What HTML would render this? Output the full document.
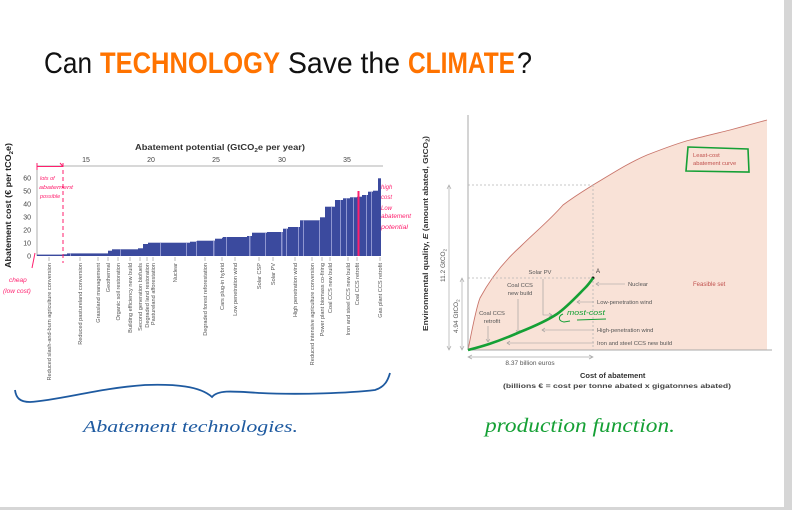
<!DOCTYPE html>
<html><head><meta charset="utf-8"><style>
html,body{margin:0;padding:0;background:#fff;}
svg{display:block;}
</style></head><body>
<svg width="792" height="510" viewBox="0 0 792 510" xmlns="http://www.w3.org/2000/svg" font-family="'Liberation Sans', sans-serif">
<rect x="0" y="0" width="792" height="510" fill="#fff"/>
<rect x="784" y="0" width="8" height="510" fill="#d6d6d6"/>
<rect x="0" y="507" width="792" height="3" fill="#d6d6d6"/>

<!-- Title -->
<g font-size="30">
<text x="44" y="73" textLength="48" lengthAdjust="spacingAndGlyphs" fill="#111">Can</text>
<text x="100" y="73" textLength="180" lengthAdjust="spacingAndGlyphs" fill="#ff7300" font-weight="bold">TECHNOLOGY</text>
<text x="288" y="73" textLength="112" lengthAdjust="spacingAndGlyphs" fill="#111">Save the</text>
<text x="408" y="73" textLength="107" lengthAdjust="spacingAndGlyphs" fill="#ff7300" font-weight="bold">CLIMATE</text>
<text x="517" y="73" textLength="15" lengthAdjust="spacingAndGlyphs" fill="#111">?</text>
</g>

<!-- LEFT CHART -->
<text x="135" y="150" font-size="8" font-weight="bold" fill="#333" textLength="170" lengthAdjust="spacingAndGlyphs">Abatement potential (GtCO<tspan font-size="5.5" dy="2">2</tspan><tspan dy="-2">e per year)</tspan></text>
<line x1="37" y1="166" x2="383" y2="166" stroke="#999" stroke-width="0.8"/>
<g font-size="7" fill="#444" text-anchor="middle">
<text x="86" y="162">15</text><text x="151" y="162">20</text><text x="216" y="162">25</text><text x="282" y="162">30</text><text x="347" y="162">35</text>
</g>
<line x1="37" y1="166" x2="37" y2="256" stroke="#999" stroke-width="0.8"/>
<g font-size="7" fill="#444" text-anchor="end">
<text x="31" y="180.5">60</text><text x="31" y="193.5">50</text><text x="31" y="206.5">40</text><text x="31" y="219.5">30</text><text x="31" y="232.5">20</text><text x="31" y="245.5">10</text><text x="31" y="258.5">0</text>
</g>
<text transform="translate(11,268) rotate(-90)" font-size="8.2" fill="#222" font-weight="bold" textLength="125" lengthAdjust="spacingAndGlyphs">Abatement cost (€ per tCO<tspan font-size="5.5" dy="2">2</tspan><tspan dy="-2">e)</tspan></text>

<!-- bars -->
<g fill="#3b4a9e">
<rect x="37" y="254.6" width="26" height="1.4"/>
<rect x="63" y="254.3" width="4" height="1.7"/>
<rect x="67" y="253.4" width="41" height="2.6"/>
<rect x="108" y="250.7" width="4" height="5.3"/>
<rect x="112" y="249.3" width="26" height="6.7"/>
<rect x="138" y="248.3" width="5" height="7.7"/>
<rect x="143" y="244" width="5" height="12"/>
<rect x="148" y="242.7" width="42" height="13.3"/>
<rect x="190" y="241.7" width="7" height="14.3"/>
<rect x="197" y="240.7" width="18" height="15.3"/>
<rect x="215" y="238.7" width="7" height="17.3"/>
<rect x="222" y="237.7" width="1" height="18.3"/>
<rect x="223" y="237" width="24" height="19"/>
<rect x="247" y="236" width="5" height="20"/>
<rect x="252" y="232.7" width="15" height="23.3"/>
<rect x="267" y="232" width="16" height="24"/>
<rect x="283" y="228.7" width="5" height="27.3"/>
<rect x="288" y="227" width="12" height="29"/>
<rect x="300" y="220.3" width="20" height="35.7"/>
<rect x="320" y="217.3" width="5" height="38.7"/>
<rect x="325" y="206.7" width="10" height="49.3"/>
<rect x="335" y="200" width="8" height="56"/>
<rect x="343" y="198.3" width="7" height="57.7"/>
<rect x="350" y="197.3" width="7" height="58.7"/>
<rect x="357" y="196.7" width="5" height="59.3"/>
<rect x="362" y="195" width="6" height="61"/>
<rect x="368" y="191.7" width="5" height="64.3"/>
<rect x="373" y="190.7" width="5" height="65.3"/>
<rect x="378" y="178.3" width="3" height="77.7"/>
</g>
<g fill="#8f96d0">
<rect x="70" y="253.4" width="1" height="2.6"/>
<rect x="120" y="249.3" width="1" height="6.7"/>
<rect x="160" y="242.7" width="1" height="13.3"/>
<rect x="186" y="242.7" width="1" height="13.3"/>
<rect x="196" y="241" width="1" height="15"/>
<rect x="213" y="240.7" width="1.5" height="15.3"/>
<rect x="226" y="237" width="1" height="19"/>
<rect x="249" y="236" width="1.5" height="20"/>
<rect x="265" y="232.7" width="1" height="23.3"/>
<rect x="281" y="232" width="1.5" height="24"/>
<rect x="286" y="228.7" width="1" height="27.3"/>
<rect x="298" y="227" width="1" height="29"/>
<rect x="303" y="220.3" width="1" height="35.7"/>
<rect x="319" y="220.3" width="1" height="35.7"/>
<rect x="331" y="206.7" width="1" height="49.3"/>
<rect x="340" y="200" width="1" height="56"/>
<rect x="346" y="198.3" width="1" height="57.7"/>
<rect x="353" y="197.3" width="1" height="58.7"/>
<rect x="366" y="195" width="1" height="61"/>
<rect x="371" y="191.7" width="1" height="64.3"/>
</g>

<!-- category ticks & labels -->
<g stroke="#777" stroke-width="0.5">
<line x1="49" y1="257" x2="49" y2="261"/><line x1="80" y1="257" x2="80" y2="261"/><line x1="98" y1="257" x2="98" y2="261"/><line x1="108" y1="257" x2="108" y2="261"/><line x1="118" y1="257" x2="118" y2="261"/><line x1="130" y1="257" x2="130" y2="261"/><line x1="140" y1="257" x2="140" y2="261"/><line x1="147" y1="257" x2="147" y2="261"/><line x1="153" y1="257" x2="153" y2="261"/><line x1="175" y1="257" x2="175" y2="261"/><line x1="205" y1="257" x2="205" y2="261"/><line x1="222" y1="257" x2="222" y2="261"/><line x1="235" y1="257" x2="235" y2="261"/><line x1="259" y1="257" x2="259" y2="261"/><line x1="273" y1="257" x2="273" y2="261"/><line x1="295" y1="257" x2="295" y2="261"/><line x1="312" y1="257" x2="312" y2="261"/><line x1="322" y1="257" x2="322" y2="261"/><line x1="330" y1="257" x2="330" y2="261"/><line x1="348" y1="257" x2="348" y2="261"/><line x1="357" y1="257" x2="357" y2="261"/><line x1="380" y1="257" x2="380" y2="261"/>
</g>
<g font-size="5.6" fill="#555" text-anchor="end">
<text transform="translate(51,263) rotate(-90)">Reduced slash-and-burn agriculture conversion</text>
<text transform="translate(82,263) rotate(-90)">Reduced pastureland conversion</text>
<text transform="translate(100,263) rotate(-90)">Grassland management</text>
<text transform="translate(110,263) rotate(-90)">Geothermal</text>
<text transform="translate(120,263) rotate(-90)">Organic soil restoration</text>
<text transform="translate(132,263) rotate(-90)">Building efficiency new build</text>
<text transform="translate(142,263) rotate(-90)">Second generation biofuels</text>
<text transform="translate(149,263) rotate(-90)">Degraded land restoration</text>
<text transform="translate(155,263) rotate(-90)">Pastureland afforestation</text>
<text transform="translate(177,263) rotate(-90)">Nuclear</text>
<text transform="translate(207,263) rotate(-90)">Degraded forest reforestation</text>
<text transform="translate(224,263) rotate(-90)">Cars plug-in hybrid</text>
<text transform="translate(237,263) rotate(-90)">Low penetration wind</text>
<text transform="translate(261,263) rotate(-90)">Solar CSP</text>
<text transform="translate(275,263) rotate(-90)">Solar PV</text>
<text transform="translate(297,263) rotate(-90)">High penetration wind</text>
<text transform="translate(314,263) rotate(-90)">Reduced intensive agriculture conversion</text>
<text transform="translate(324,263) rotate(-90)">Power plant biomass co-firing</text>
<text transform="translate(332,263) rotate(-90)">Coal CCS new build</text>
<text transform="translate(350,263) rotate(-90)">Iron and steel CCS new build</text>
<text transform="translate(359,263) rotate(-90)">Coal CCS retrofit</text>
<text transform="translate(382,263) rotate(-90)">Gas plant CCS retrofit</text>
</g>

<!-- pink annotations -->
<g stroke="#ff1f6e" fill="none" stroke-width="1">
<line x1="63" y1="163" x2="63" y2="263" stroke-dasharray="4,3"/>
<line x1="37" y1="163" x2="37" y2="170"/>
<line x1="37" y1="166.5" x2="63" y2="166.5"/>
<line x1="60" y1="163" x2="63" y2="166.5"/>
<line x1="35" y1="253" x2="32" y2="268"/>
<line x1="358.5" y1="191" x2="358.5" y2="256" stroke-width="2"/>
</g>
<g fill="#ff1f6e" font-size="5.5" font-style="italic">
<text x="40" y="180">lots of</text>
<text x="39" y="189" textLength="34" lengthAdjust="spacingAndGlyphs">abatement</text>
<text x="40" y="198">possible</text>
<text x="9" y="282" font-size="6.5">cheap</text>
<text x="3" y="293" font-size="6.5">(low cost)</text>
<text x="381" y="189" font-size="6">high</text>
<text x="381" y="199" font-size="6">cost</text>
<text x="381" y="210" font-size="6">Low</text>
<text x="381" y="218" font-size="6" textLength="30" lengthAdjust="spacingAndGlyphs">abatement</text>
<text x="381" y="229" font-size="6" textLength="27" lengthAdjust="spacingAndGlyphs">potential</text>
</g>

<!-- blue brace -->
<path d="M15,390 C16,398 20,402 30,402 C60,400 100,388 145,385 C175,384 200,386 212,397 C218,390 230,391 260,393 C300,395 350,393 375,390 C385,387 388,380 390,373" fill="none" stroke="#1e5aa0" stroke-width="1.8"/>
<text x="83" y="432" font-family="'Liberation Serif', serif" font-style="italic" font-size="17" fill="#1e5aa0" textLength="215" lengthAdjust="spacingAndGlyphs">Abatement technologies.</text>

<!-- RIGHT CHART -->
<path d="M468,350 C472,330 476,308 480,298 C487,285 500,265 520,247 C535,232 548,222 563,205 C575,196 585,190 593,185 C610,175 628,163 647,155 C665,148 678,143 690,140 C705,136 718,133 730,130 C745,126 756,123 767,120 L767,350 Z" fill="#f9e2d7"/>
<path d="M468,350 C472,330 476,308 480,298 C487,285 500,265 520,247 C535,232 548,222 563,205 C575,196 585,190 593,185 C610,175 628,163 647,155 C665,148 678,143 690,140 C705,136 718,133 730,130 C745,126 756,123 767,120" fill="none" stroke="#c8746a" stroke-width="0.9"/>
<line x1="468" y1="115" x2="468" y2="350" stroke="#aaa" stroke-width="1"/>
<line x1="468" y1="350" x2="772" y2="350" stroke="#aaa" stroke-width="1"/>
<g stroke="#b5b5b5" stroke-width="0.8" stroke-dasharray="2,2" fill="none">
<line x1="468" y1="185" x2="593" y2="185"/>
<line x1="593" y1="185" x2="593" y2="350"/>
<line x1="468" y1="278" x2="593" y2="278"/>
</g>
<circle cx="593" cy="278" r="1.5" fill="#111"/>
<text x="596" y="273" font-size="6" fill="#333">A</text>

<!-- left arrows -->
<g stroke="#aaa" stroke-width="0.7" fill="none">
<line x1="449" y1="186" x2="449" y2="349"/>
<polyline points="447,189 449,185 451,189"/>
<polyline points="447,346 449,350 451,346"/>
<line x1="462" y1="279" x2="462" y2="349"/>
<polyline points="460,282 462,278 464,282"/>
<polyline points="460,346 462,350 464,346"/>
<line x1="469" y1="357" x2="592" y2="357"/>
<polyline points="472,355 468,357 472,359"/>
<polyline points="589,355 593,357 589,359"/>
</g>
<text transform="translate(445,282) rotate(-90)" font-size="6.5" fill="#555">11.2 GtCO<tspan font-size="4.5" dy="1.5">2</tspan></text>
<text transform="translate(458,333) rotate(-90)" font-size="6.5" fill="#555">4.94 GtCO<tspan font-size="4.5" dy="1.5">2</tspan></text>
<text transform="translate(428,331) rotate(-90)" font-size="7.5" font-weight="bold" fill="#333" textLength="195" lengthAdjust="spacingAndGlyphs">Environmental quality, <tspan font-style="italic">E</tspan> (amount abated, GtCO<tspan font-size="5" dy="1.5">2</tspan><tspan dy="-1.5">)</tspan></text>
<text x="530" y="365" font-size="6.5" fill="#555" text-anchor="middle">8.37 billion euros</text>
<text x="580" y="378" font-size="7.5" font-weight="bold" fill="#333">Cost of abatement</text>
<text x="617" y="388" font-size="6.8" fill="#444" text-anchor="middle" font-weight="bold" textLength="228" lengthAdjust="spacingAndGlyphs">(billions € = cost per tonne abated x gigatonnes abated)</text>

<!-- inner labels -->
<g font-size="5.8" fill="#555" text-anchor="middle">
<text x="540" y="274">Solar PV</text>
<text x="520" y="287">Coal CCS</text>
<text x="520" y="295">new build</text>
<text x="492" y="315">Coal CCS</text>
<text x="492" y="323">retrofit</text>
</g>
<g font-size="5.8" fill="#555">
<text x="628" y="286">Nuclear</text>
<text x="597" y="304">Low-penetration wind</text>
<text x="597" y="332">High-penetration wind</text>
<text x="597" y="345">Iron and steel CCS new build</text>
</g>
<g stroke="#999" stroke-width="0.6" fill="none">
<polyline points="543,279 543,315 552,315"/>
<polyline points="549,313 552,315 549,317"/>
<line x1="518" y1="299" x2="518" y2="333"/>
<polyline points="516,330 518,333 520,330"/>
<line x1="488" y1="326" x2="488" y2="342"/>
<polyline points="486,339 488,342 490,339"/>
<line x1="596" y1="284" x2="625" y2="284"/>
<polyline points="599,282 596,284 599,286"/>
<line x1="577" y1="302" x2="594" y2="302"/>
<polyline points="580,300 577,302 580,304"/>
<line x1="542" y1="330" x2="594" y2="330"/>
<polyline points="545,328 542,330 545,332"/>
<line x1="507" y1="343" x2="594" y2="343"/>
<polyline points="510,341 507,343 510,345"/>
</g>
<text x="693" y="286" font-size="6" fill="#c0504d">Feasible set</text>
<text x="693" y="157" font-size="5.8" fill="#c0504d">Least-cost</text>
<text x="693" y="165" font-size="5.8" fill="#c0504d">abatement curve</text>

<!-- green annotations -->
<path d="M688,147 L748,149 L749,172 L686,171 Z" fill="none" stroke="#15a035" stroke-width="1.6"/>
<path d="M468,350 C480,347 495,343 520,332 C535,326 548,320 557,314 C567,307 577,296 585,288 C589,284 591,281 593,278" fill="none" stroke="#15a035" stroke-width="2.6"/>
<text x="567" y="315" font-size="7" font-style="italic" fill="#15a035" textLength="38" lengthAdjust="spacingAndGlyphs">most-cost</text>
<path d="M563,314 C558,316 558,321 564,322 L570,321 M577,320 L606,319" fill="none" stroke="#15a035" stroke-width="1"/>
<text x="485" y="432" font-family="'Liberation Serif', serif" font-style="italic" font-size="20" fill="#15a035" textLength="190" lengthAdjust="spacingAndGlyphs">production function.</text>
</svg>
</body></html>
